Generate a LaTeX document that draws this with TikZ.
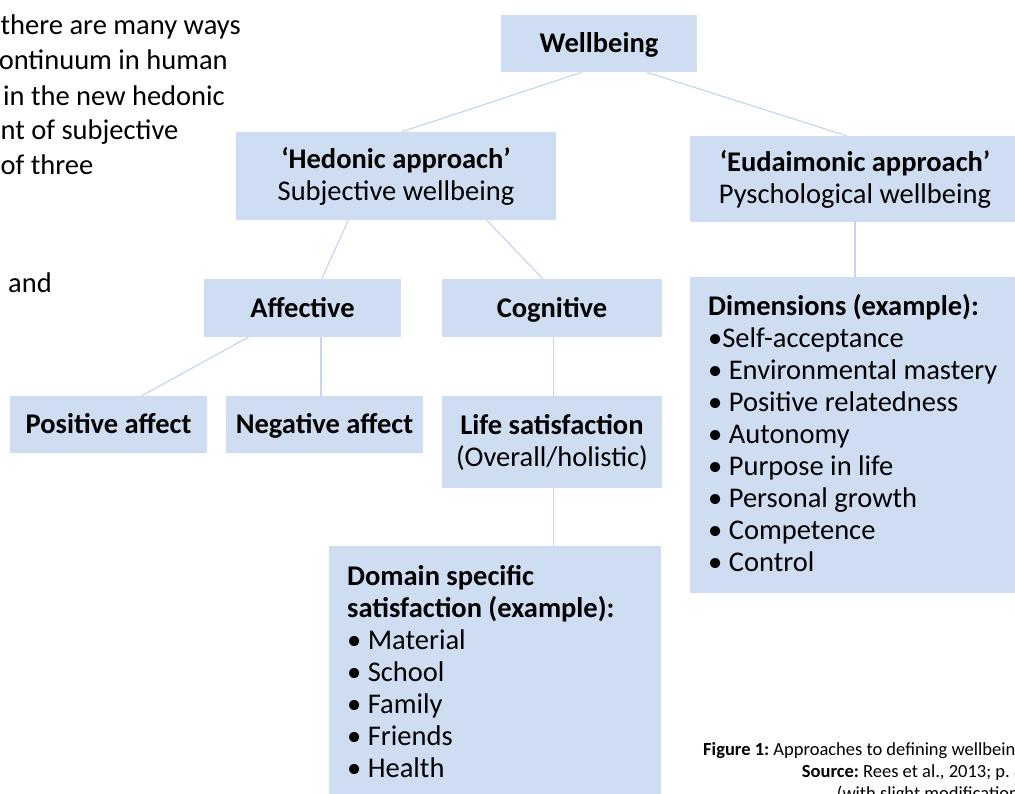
\documentclass[tikz,border=0pt]{standalone}
\usepackage{fontspec}
\setmainfont{Carlito}
\frenchspacing
\definecolor{boxblue}{HTML}{CFDDF2}
\definecolor{linkblue}{HTML}{C6D6EE}
\begin{document}
\begin{tikzpicture}[x=1pt,y=-1pt,
  box/.style={fill=boxblue, draw=none, inner sep=0pt, align=center,
    font=\fontsize{28.5}{32}\selectfont},
  onebox/.style={box, text height=24pt, text depth=5.6pt},
  listtext/.style={inner sep=0pt, align=left, anchor=north west,
    font=\fontsize{28.5}{32}\selectfont},
  bodytext/.style={inner sep=0pt,
    font=\fontsize{28.5}{32}\selectfont},
  captext/.style={inner sep=0pt, anchor=base west,
    font=\fontsize{18.5}{22}\selectfont},
  link/.style={draw=linkblue, line width=1.2pt}]
\useasboundingbox (0,0) rectangle (1015,793);
\clip (0,0) rectangle (1015,793);

% surrounding page text (cropped)
\node[bodytext, anchor=base west] (p1) at (0.5,34) {there are many ways};
\node[bodytext, anchor=base east] (p2) at (228,69) {ontinuum in human};
\node[bodytext, anchor=base east] (p3) at (225,105) {in the new hedonic};
\node[bodytext, anchor=base west] (p4) at (0.5,139) {nt of subjective};
\node[bodytext, anchor=base west] (p5) at (0.5,174) {of three};
\node[bodytext, anchor=base east] (p6) at (52,292) {and};

% boxes
\node[onebox, minimum width=196pt, minimum height=57pt] (wb) at (599,43.5) {\bfseries Wellbeing};
\node[box, minimum width=320pt, minimum height=88pt] (hed) at (396,176) {{\bfseries ‘Hedonic approach’}\\Subjective wellbeing};
\node[box, minimum width=330pt, minimum height=86pt] (eud) at (855,179) {{\bfseries ‘Eudaimonic approach’}\\Pyschological wellbeing};
\node[onebox, minimum width=197pt, minimum height=58pt] (aff) at (302.5,308) {\bfseries Affective};
\node[onebox, minimum width=220pt, minimum height=58pt] (cog) at (552,308) {\bfseries Cognitive};
\node[onebox, minimum width=197pt, minimum height=57pt] (pos) at (108.5,424.5) {\bfseries Positive affect};
\node[onebox, minimum width=197pt, minimum height=57pt] (neg) at (324.5,424.5) {\bfseries Negative affect};
\node[box, minimum width=220pt, minimum height=92pt] (life) at (552,442) {{\bfseries Life satisfaction}\\(Overall/holistic)};
\node[box, minimum width=332pt, minimum height=264pt] (dom) at (495,678) {};
\node[box, minimum width=330pt, minimum height=316pt] (dim) at (855,435) {};

\node[listtext] (domt) at (347,565) {{\bfseries Domain specific}\\{\bfseries satisfaction (example):}\\• Material\\• School\\• Family\\• Friends\\• Health};
\node[listtext] (dimt) at (708,294) {{\bfseries Dimensions (example):}\\•Self-acceptance\\• Environmental mastery\\• Positive relatedness\\• Autonomy\\• Purpose in life\\• Personal growth\\• Competence\\• Control};

% connectors
\draw[link] ([xshift=-17pt]wb.south) -- ([xshift=5.7pt]hed.north);
\draw[link] ([xshift=47.7pt]wb.south) -- ([xshift=-8.3pt]eud.north);
\draw[link] ([xshift=-47.7pt]hed.south) -- ([xshift=19.2pt]aff.north);
\draw[link] ([xshift=90.7pt]hed.south) -- ([xshift=-9.3pt]cog.north);
\draw[link] ([xshift=-54.2pt]aff.south) -- ([xshift=33.2pt]pos.north);
\draw[link] ([xshift=18.5pt]aff.south) -- ([xshift=-3.5pt]neg.north);
\draw[link] ([xshift=1.3pt]cog.south) -- ([xshift=1.3pt]life.north);
\draw[link] ([xshift=1.3pt]life.south) -- ([xshift=58.3pt]dom.north);
\draw[link] (eud.south) -- (dim.north);

% caption (cropped)
\node[captext] (cap1) at (703,755) {\textbf{Figure 1:} Approaches to defining wellbeing};
\node[captext] (cap2) at (801.7,777) {\textbf{Source:} Rees et al., 2013; p. 8};
\node[captext] (cap3) at (836.7,799) {(with slight modifications)};
\end{tikzpicture}
\end{document}
